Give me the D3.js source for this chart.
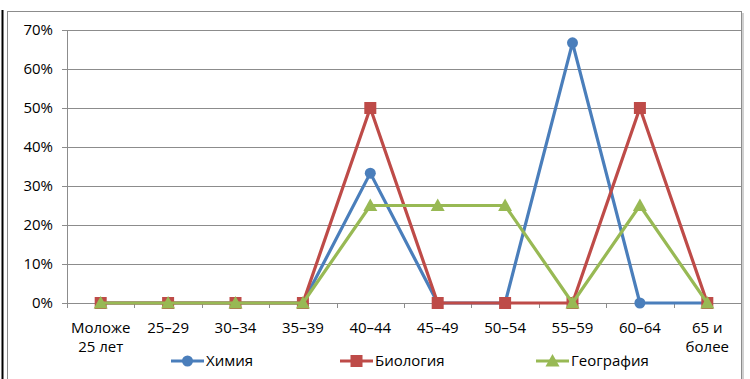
<!DOCTYPE html>
<html><head><meta charset="utf-8">
<script src="https://cdn.jsdelivr.net/npm/d3@7"></script>
<style>body{margin:0;background:#fff}svg{display:block}text{font-family:"Open Sans",sans-serif}</style>
</head><body><svg id="c" width="750" height="379"></svg>
<script>
const categories = ["Моложе\n25 лет","25–29","30–34","35–39","40–44","45–49","50–54","55–59","60–64","65 и\nболее"];
const khimiya = [0,0,0,0,33.3,0,0,66.7,0,0];
const biologiya = [0,0,0,0,50,0,0,0,50,0];
const geografiya = [0,0,0,0,25,25,25,0,25,0];
const yTicks = [0,10,20,30,40,50,60,70];
const seriesNames = ["Химия","Биология","География"];
const colors = ["#4A7EBB","#BE4B48","#98B954"];

const FS = 15;
const svg = d3.select("#c");
// outer frame
svg.append("line").attr("x1",2.5).attr("x2",2.5).attr("y1",10).attr("y2",379).attr("stroke","#000").attr("stroke-width",2);
svg.append("rect").attr("x",7.5).attr("y",11.5).attr("width",734).attr("height",380).attr("fill","#fff").attr("stroke","#8c8c8c");
svg.append("line").attr("x1",743).attr("x2",743).attr("y1",13).attr("y2",379).attr("stroke","#d0d0d0").attr("stroke-width",2);

const L=67, R=741, T=30, B=303;
const x = d3.scaleBand().domain(d3.range(categories.length)).range([L,R]);
const y = d3.scaleLinear().domain([0,70]).range([B,T]);

const g = svg.append("g");
g.selectAll(".grid").data(yTicks).join("line")
 .attr("x1",L-5).attr("x2",R).attr("y1",d=>Math.round(y(d))+0.5).attr("y2",d=>Math.round(y(d))+0.5)
 .attr("stroke","#8c8c8c").attr("stroke-width",1);
g.append("line").attr("x1",L+0.5).attr("x2",L+0.5).attr("y1",T).attr("y2",B).attr("stroke","#8c8c8c");
g.selectAll(".xt").data(d3.range(categories.length+1)).join("line")
 .attr("x1",i=>Math.round(L+i*x.step())+0.5).attr("x2",i=>Math.round(L+i*x.step())+0.5)
 .attr("y1",B).attr("y2",B+5).attr("stroke","#8c8c8c");
g.selectAll(".yl").data(yTicks).join("text")
 .attr("x",53).attr("y",d=>y(d)).attr("dy","0.35em").attr("text-anchor","end")
 .attr("font-size",FS).attr("fill","#000").text(d=>d+"%");
categories.forEach((c,i)=>{
  const t = g.append("text").attr("text-anchor","middle").attr("font-size",FS).attr("fill","#000");
  c.split("\n").forEach((line,j)=>{
    t.append("tspan").attr("x",x(i)+x.bandwidth()/2).attr("y",333+j*19).text(line);
  });
});

const data=[khimiya,biologiya,geografiya];
const cx = i=>x(i)+x.bandwidth()/2;
const line = d3.line().x((d,i)=>cx(i)).y(d=>y(d));
function marker(sel, k){
  if(k===0) return sel.append("circle").attr("r",5.5);
  if(k===1) return sel.append("rect").attr("x",-6).attr("y",-6).attr("width",12).attr("height",12);
  return sel.append("path").attr("d","M0,-7L7,5.5L-7,5.5Z");
}
data.forEach((vals,k)=>{
  g.append("path").datum(vals).attr("d",line).attr("fill","none").attr("stroke",colors[k]).attr("stroke-width",3.2).attr("stroke-linejoin","round");
  vals.forEach((v,i)=>{
    const m = g.append("g").attr("transform",`translate(${cx(i)},${y(v)})`);
    marker(m,k).attr("fill",colors[k]);
  });
});
const legX=[171,340,536];
seriesNames.forEach((n,k)=>{
  const lg = svg.append("g").attr("transform",`translate(${legX[k]},361)`);
  lg.append("line").attr("x1",0).attr("x2",33).attr("y1",0).attr("y2",0).attr("stroke",colors[k]).attr("stroke-width",3.2);
  marker(lg.append("g").attr("transform","translate(16.5,0)"),k).attr("fill",colors[k]);
  lg.append("text").attr("x",35).attr("y",0).attr("dy","0.35em").attr("font-size",FS).attr("fill","#000").text(n);
});
</script></body></html>
